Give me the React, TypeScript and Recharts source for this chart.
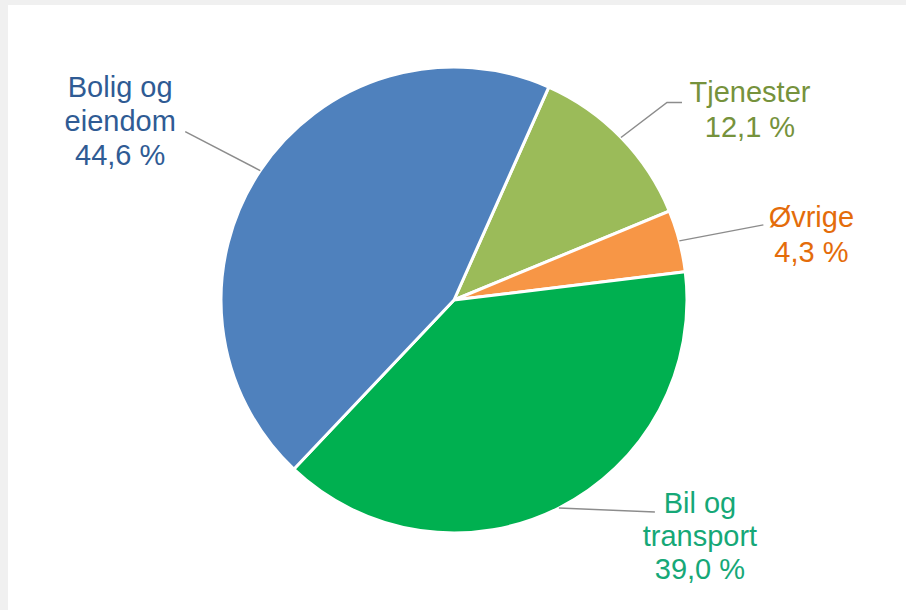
import React from "react";
import { PieChart, Pie, Cell } from "recharts";

const categories = ["Tjenester", "Øvrige", "Bil og transport", "Bolig og eiendom"];
const labelLines = [["Tjenester"], ["Øvrige"], ["Bil og", "transport"], ["Bolig og", "eiendom"]];
const shares = [12.1, 4.3, 39.0, 44.6];

const sliceColors = ["#9BBB59", "#F79646", "#00B050", "#4F81BD"];
const textColors = ["#76923C", "#E46C0A", "#16A877", "#2F5B94"];

// label layout relative to slice edge point: elbow/end of leader line, text center x, first baseline, line spacing
const labelLayout = [
  { pts: [[46, -35], [61, -35]], tx: 129, ty: -36, lh: 35 },
  { pts: [[84, -16]], tx: 132, ty: -14, lh: 35 },
  { pts: [[96, 4]], tx: 141, ty: 5, lh: 33 },
  { pts: [[-75, -39]], tx: -140, ty: -74, lh: 34 },
];

const data = categories.map((c, i) => ({ name: c, value: shares[i] }));

const RAD = Math.PI / 180;

const renderLabel = (props: any) => {
  const { cx, cy, midAngle, outerRadius, index, value } = props;
  const ex = cx + outerRadius * Math.cos(-midAngle * RAD);
  const ey = cy + outerRadius * Math.sin(-midAngle * RAD);
  const lay = labelLayout[index];
  const pts = [[ex, ey], ...lay.pts.map(([dx, dy]) => [ex + dx, ey + dy])];
  const lines = [...labelLines[index], value.toFixed(1).replace(".", ",") + " %"];
  return (
    <g key={`lbl-${index}`}>
      <polyline
        points={pts.map((p) => p.join(",")).join(" ")}
        fill="none"
        stroke="#8C8C8C"
        strokeWidth={1.5}
      />
      {lines.map((t, k) => (
        <text
          key={k}
          x={ex + lay.tx}
          y={ey + lay.ty + k * lay.lh}
          textAnchor="middle"
          fill={textColors[index]}
          fontSize={29}
          fontFamily="'Liberation Sans', Arial, sans-serif"
        >
          {t}
        </text>
      ))}
    </g>
  );
};

export default function App() {
  return (
    <div
      style={{
        position: "absolute",
        left: 0,
        top: 0,
        width: 906,
        height: 610,
        background: "#F0F0F0",
        overflow: "hidden",
      }}
    >
      <div
        style={{
          position: "absolute",
          left: 8,
          top: 5,
          width: 898,
          height: 605,
          background: "#FFFFFF",
        }}
      >
        <PieChart width={898} height={605} margin={{ top: 0, right: 0, bottom: 0, left: 0 }}>
          <Pie
            data={data}
            dataKey="value"
            nameKey="name"
            cx={446}
            cy={295}
            outerRadius={233}
            startAngle={66}
            endAngle={-294}
            stroke="#FFFFFF"
            strokeWidth={3}
            label={renderLabel}
            labelLine={false}
            isAnimationActive={false}
          >
            {data.map((d, i) => (
              <Cell key={d.name} fill={sliceColors[i]} />
            ))}
          </Pie>
        </PieChart>
      </div>
    </div>
  );
}
